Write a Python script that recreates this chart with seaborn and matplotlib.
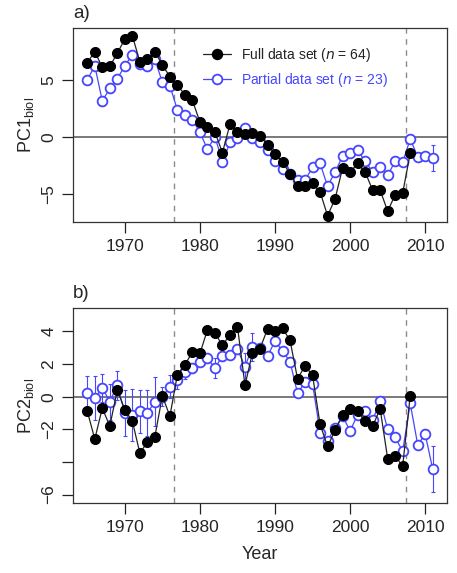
import numpy as np
import pandas as pd
import seaborn as sns
import matplotlib.pyplot as plt
from matplotlib.lines import Line2D

# data
years_full = list(range(1965, 2009))
years_part = list(range(1965, 2012))

pc1_full = [6.5, 7.5, 6.1, 6.2, 7.35, 8.6, 8.9, 6.6, 6.8, 7.5, 6.3, 5.3, 4.55, 3.7, 3.2,
            1.3, 0.9, 0.4, -1.4, 1.1, 0.4, 0.2, 0.3, 0.1, -0.7, -1.55, -2.2, -3.3, -4.35,
            -4.35, -4.1, -4.85, -6.95, -5.45, -2.75, -3.1, -2.35, -3.1, -4.7, -4.7, -6.55,
            -5.1, -4.95, -1.45]
pc1_part = [5.0, 6.25, 3.15, 4.25, 5.1, 6.25, 7.2, 6.4, 6.2, 6.8, 4.8, 4.5, 2.35, 1.9, 1.5,
            0.4, -1.1, 0.0, -2.2, -0.5, -0.15, 0.8, -0.15, -0.5, -1.2, -2.15, -2.8, -3.3,
            -3.8, -3.8, -2.7, -2.35, -4.35, -3.1, -1.7, -1.4, -1.2, -2.15, -3.1, -2.7, -3.4,
            -2.15, -2.25, -0.2, -1.75, -1.65, -1.85]
pc1_err = [0.4, 0.4, 0.4, 0.4, 0.4, 0.4, 0.4, 0.4, 0.4, 0.3, 0.3, 0.2, 0, 0, 0,
           0, 0, 0, 0, 0, 0, 0, 0, 0, 0, 0, 0, 0, 0, 0, 0, 0, 0, 0, 0, 0, 0, 0, 0, 0,
           0, 0, 0, 0, 0, 0, 1.15]

pc2_full = [-0.88, -2.6, -0.7, -1.8, 0.4, -0.8, -1.5, -3.45, -2.8, -2.45, 0.05, -1.2, 1.35,
            1.95, 2.75, 2.65, 4.1, 3.9, 3.15, 3.8, 4.3, 0.7, 2.7, 2.95, 4.15, 4.0, 4.2, 3.45,
            1.1, 1.9, 1.3, -1.7, -3.05, -2.05, -1.15, -0.75, -0.9, -1.5, -1.8, -0.75, -3.8,
            -3.65, -4.25, 0.05]
pc2_part = [0.25, -0.1, 0.55, -0.3, 0.7, -1.0, -1.1, -0.9, -1.0, -0.3, 0.0, 0.6, 1.0, 1.5,
            1.75, 2.15, 2.35, 1.75, 2.5, 2.55, 2.9, 1.85, 3.05, 3.0, 2.5, 3.4, 2.8, 2.15, 0.2,
            0.9, 0.8, -2.2, -2.7, -1.9, -1.2, -2.1, -1.1, -0.9, -1.45, -0.25, -2.0, -2.5,
            -3.35, -0.4, -2.95, -2.3, -4.45]
pc2_err = [1.0, 1.35, 0.85, 1.1, 0.9, 1.4, 1.6, 1.3, 1.4, 1.5, 0.6, 0.7, 0.5, 0.4, 0.3,
           0.2, 0.3, 0.6, 0.3, 0.2, 0.2, 0.8, 0.85, 0.2, 0, 0, 0, 0, 0, 0, 0, 0, 0, 0, 0,
           0, 0, 0, 0, 0, 0, 0, 0, 0, 0, 0.3, 1.4]

breaks = [1976.5, 2007.5]
blue = '#4646ff'

sns.set_style('ticks')
plt.rcParams['font.family'] = ['Liberation Sans', 'DejaVu Sans']
plt.rcParams['axes.linewidth'] = 0.9

fig = plt.figure(figsize=(4.57, 5.73), dpi=100)
W, H = 457, 573
ax1 = fig.add_axes([73 / W, 1 - 222 / H, 374 / W, 194 / H])
ax2 = fig.add_axes([73 / W, 1 - 503 / H, 374 / W, 195 / H])


def panel(ax, full, part, err, ylim, yticks, ylabels, ylab):
    for b in breaks:
        ax.axvline(b, color='#8a8a8a', lw=1, ls=(0, (4, 4)), zorder=1)
    ax.axhline(0, color='#555555', lw=1.1, zorder=1)
    ax.errorbar(years_part, part, yerr=err, fmt='none', ecolor=blue, elinewidth=0.8,
                capsize=1.6, capthick=0.8, zorder=2)
    sns.lineplot(x=years_part, y=part, ax=ax, color=blue, lw=0.9, marker='o', markersize=7,
                 markerfacecolor='white', markeredgecolor=blue, markeredgewidth=1.3,
                 errorbar=None, zorder=3)
    sns.lineplot(x=years_full, y=full, ax=ax, color='#222222', lw=0.9, marker='o',
                 markersize=7.2, markerfacecolor='black', markeredgecolor='black',
                 errorbar=None, zorder=4)
    ax.set_xlim(1963.1, 2012.9)
    ax.set_ylim(*ylim)
    ax.set_xticks([1970, 1980, 1990, 2000, 2010])
    ax.set_yticks(yticks)
    ax.set_yticklabels(ylabels, rotation=90, va='center')
    ax.tick_params(direction='out', length=8, width=0.9, color='#222222',
                   labelsize=12.5, pad=4)
    for s in ax.spines.values():
        s.set_visible(True)
        s.set_color('#333333')
    ax.set_ylabel(ylab, fontsize=13, labelpad=4)
    ax.set_xlabel('')


panel(ax1, pc1_full, pc1_part, pc1_err, (-7.5, 9.57), [-5, 0, 5], ['\u22125', '0', '5'],
      'PC1$_{\\mathregular{biol}}$')
panel(ax2, pc2_full, pc2_part, pc2_err, (-6.52, 5.44), [-6, -4, -2, 0, 2, 4],
      ['\u22126', '', '\u22122', '0', '2', '4'], 'PC2$_{\\mathregular{biol}}$')
ax2.set_xlabel('Year', fontsize=13, labelpad=8)

handles = [Line2D([], [], color='#222222', lw=0.9, marker='o', markersize=7.2,
                  markerfacecolor='black', markeredgecolor='black'),
           Line2D([], [], color=blue, lw=0.9, marker='o', markersize=7,
                  markerfacecolor='white', markeredgecolor=blue, markeredgewidth=1.3)]
leg = ax1.legend(handles, ['Full data set ($n$ = 64)', 'Partial data set ($n$ = 23)'],
                 loc='upper left', bbox_to_anchor=(0.33, 0.945), frameon=False,
                 fontsize=10, handlelength=2.0, handletextpad=0.7, borderpad=0,
                 labelspacing=0.5)
leg.get_texts()[0].set_color('#222222')
leg.get_texts()[1].set_color(blue)

fig.text(73 / W, 1 - 14 / H, 'a)', fontsize=13.5, ha='left', va='center')
fig.text(73 / W, 1 - 294 / H, 'b)', fontsize=13.5, ha='left', va='center')

fig.savefig('out.png', dpi=100)
